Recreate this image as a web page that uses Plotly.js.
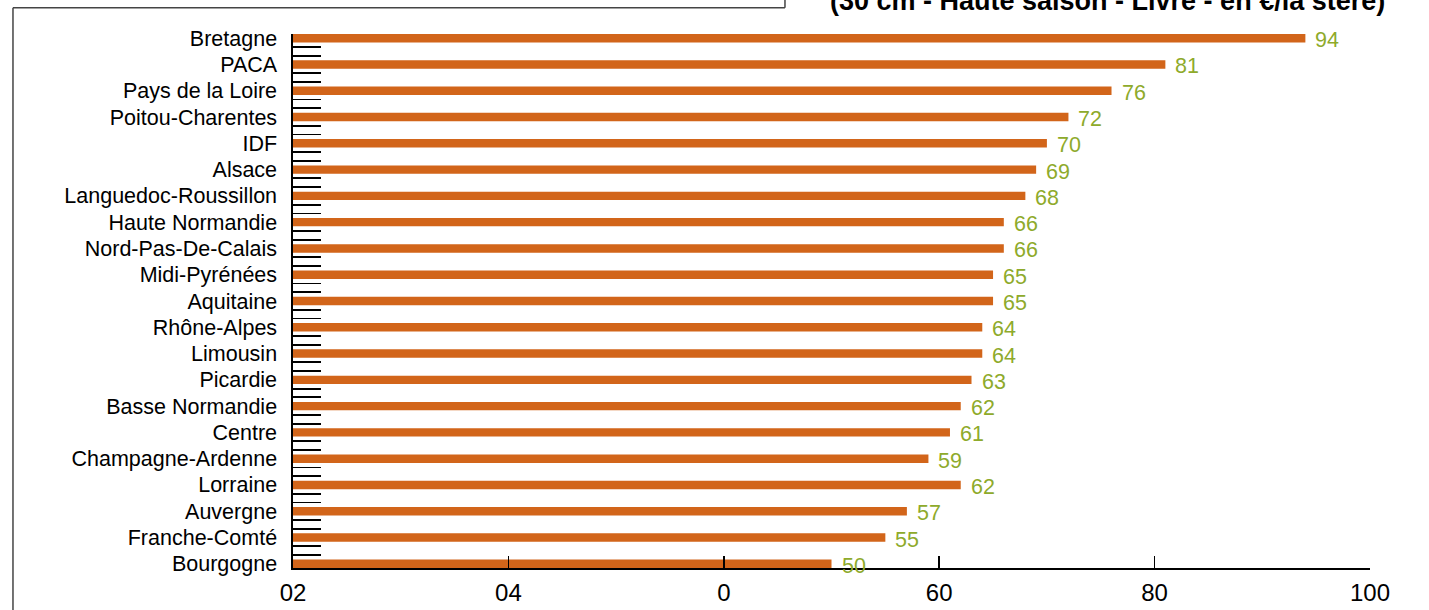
<!DOCTYPE html>
<html>
<head>
<meta charset="utf-8">
<script src="https://cdn.plot.ly/plotly-3.0.1.min.js"></script>
<style>html,body{margin:0;padding:0;background:#fff;}#chart{width:1429px;height:610px;}</style>
</head>
<body>
<div id="chart"></div>
<script>
const regions = ["Bretagne","PACA","Pays de la Loire","Poitou-Charentes","IDF","Alsace","Languedoc-Roussillon","Haute Normandie","Nord-Pas-De-Calais","Midi-Pyrénées","Aquitaine","Rhône-Alpes","Limousin","Picardie","Basse Normandie","Centre","Champagne-Ardenne","Lorraine","Auvergne","Franche-Comté","Bourgogne"];
const prices = [94,81,76,72,70,69,68,66,66,65,65,64,64,63,62,61,59,62,57,55,50];
const xTickVals = [0,20,40,60,80,100];
const xTickText = ["02","04","0","60","80","100"];
const titleText = "(30 cm - Haute saison - Livré - en €/la stère)";

const idx = regions.map((_, i) => i);
const minorTicks = [];
for (let i = 0; i < regions.length - 1; i++) { minorTicks.push(i + 1/3, i + 2/3); }

const barColor = "#D2651A";
const labelColor = "#8EAA2B";
const font = "Liberation Sans, Arial, sans-serif";

const trace = {
  type: "bar", orientation: "h",
  x: prices, y: idx,
  marker: {color: barColor},
  width: 0.32,
  hoverinfo: "x+text", text: regions, textposition: "none"
};
const ghost = {
  type: "scatter", x: [0], y: [0], yaxis: "y2", mode: "markers",
  marker: {opacity: 0}, hoverinfo: "skip", showlegend: false
};

const annotations = prices.map((v, i) => ({
  x: v, y: i, xref: "x", yref: "y", text: String(v), showarrow: false,
  xanchor: "left", yanchor: "middle", xshift: 8, yshift: -2,
  font: {family: font, size: 21.5, color: labelColor}
}));
annotations.push({
  x: 1.0155, y: 1, xref: "paper", yref: "paper", text: "<b>" + titleText + "</b>",
  showarrow: false, xanchor: "right", yanchor: "bottom", yshift: 16,
  font: {family: font, size: 27, color: "#000"}
});

const yRange = [regions.length - 1 + 0.16, -0.16];
const layout = {
  width: 1429, height: 610,
  margin: {l: 293, r: 59, t: 34, b: 42, pad: 0},
  paper_bgcolor: "#fff", plot_bgcolor: "#fff",
  showlegend: false,
  xaxis: {
    range: [0, 100], tickmode: "array", tickvals: xTickVals, ticktext: xTickText,
    ticks: "inside", ticklen: 12, tickwidth: 1.6, tickcolor: "#000",
    showline: true, linecolor: "#000", linewidth: 1.6, showgrid: false, zeroline: false,
    tickfont: {family: font, size: 24, color: "#000"}, ticklabelstandoff: 3
  },
  yaxis: {
    range: yRange, tickmode: "array", tickvals: idx, ticktext: regions,
    ticks: "", showline: true, linecolor: "#000", linewidth: 1.6,
    showgrid: false, zeroline: false, ticklabelstandoff: 10,
    tickfont: {family: font, size: 21.5, color: "#000"}
  },
  yaxis2: {
    overlaying: "y", side: "left", range: yRange, tickmode: "array", tickvals: minorTicks,
    ticks: "inside", ticklen: 28, tickwidth: 1.8, tickcolor: "#000",
    showticklabels: false, showgrid: false, zeroline: false, showline: false
  },
  annotations: annotations,
  shapes: [
    {type: "line", xref: "paper", yref: "paper", x0: -0.26, x1: 0.4568, y0: 1.049, y1: 1.049, line: {color: "#444", width: 1.5}},
    {type: "line", xref: "paper", yref: "paper", x0: 0.4568, x1: 0.4568, y0: 1.049, y1: 1.07, line: {color: "#444", width: 1.5}},
    {type: "line", xref: "paper", yref: "paper", x0: -0.26, x1: -0.26, y0: 1.049, y1: -0.09, line: {color: "#444", width: 1.5}}
  ]
};

Plotly.newPlot("chart", [trace, ghost], layout, {displayModeBar: false, staticPlot: true});
</script>
</body>
</html>
